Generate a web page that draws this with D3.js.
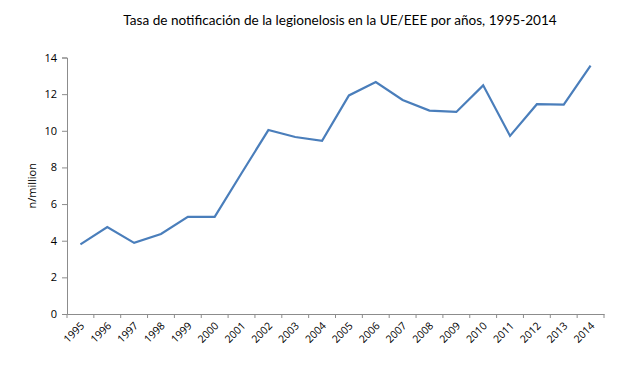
<!DOCTYPE html>
<html><head><meta charset="utf-8">
<script src="https://cdn.jsdelivr.net/npm/d3@7/dist/d3.min.js"></script>
<style>body{margin:0;background:#fff}svg{display:block}</style>
</head><body><svg id="c" width="630" height="370"></svg>
<script>
const years = ["1995","1996","1997","1998","1999","2000","2001","2002","2003","2004","2005","2006","2007","2008","2009","2010","2011","2012","2013","2014"];
const rates = [3.8,4.75,3.88,4.37,5.3,5.3,7.68,10.04,9.66,9.45,11.93,12.66,11.68,11.1,11.03,12.48,9.72,11.45,11.43,13.56];
const yTicks = [0,2,4,6,8,10,12,14];
const title = "Tasa de notificación de la legionelosis en la UE/EEE por años, 1995-2014";
const yLabel = "n/million";

const svg = d3.select("#c");
const m = {left:67, right:26, top:57.5, bottom:56};
const W = 630, H = 370;
const x = d3.scaleBand().domain(years).range([m.left, W - m.right]);
const y = d3.scaleLinear().domain([0,14]).range([H - m.bottom, m.top]);
const font = "'Open Sans', 'Liberation Sans', sans-serif";
const axisColor = "#8c8c8c";

const t = svg.append("text").attr("x", 340).attr("y", 25).attr("text-anchor","middle")
  .attr("font-family", "Lato, 'Open Sans', sans-serif").attr("font-size", 16).attr("fill","#000")
  .text(title);
const tw = t.node().getComputedTextLength();
t.attr("font-size", Math.min(17, 16 * 434 / tw));

const ya = svg.append("g").attr("transform",`translate(${m.left},0)`)
  .call(d3.axisLeft(y).tickValues(yTicks).tickSize(5).tickPadding(5).tickFormat(d3.format("d")));
ya.select(".domain").attr("stroke", axisColor);
ya.selectAll(".tick line").attr("stroke", axisColor);
ya.selectAll("text").attr("font-family", font).attr("font-size", 11).attr("fill","#000");

const xa = svg.append("g").attr("transform",`translate(0,${H - m.bottom})`)
  .call(d3.axisBottom(x).tickSize(0).tickFormat(d=>d));
xa.select(".domain").attr("stroke", axisColor);
const bounds = years.map(d => x(d)).concat([x(years[years.length-1]) + x.bandwidth()]);
xa.selectAll("line.bt").data(bounds).enter().append("line").attr("class","bt")
  .attr("x1", d=>d).attr("x2", d=>d).attr("y1",0).attr("y2",4).attr("stroke", axisColor);
xa.selectAll(".tick text").attr("font-family", font).attr("font-size", 10.5).attr("fill","#000")
  .attr("text-anchor","end").attr("x",0).attr("y",0).attr("dy","0.35em")
  .attr("transform","translate(2,10) rotate(-45)");

svg.append("text").attr("transform",`translate(36,${(y(0)+y(14))/2}) rotate(-90)`)
  .attr("text-anchor","middle").attr("font-family", font).attr("font-size", 11).attr("fill","#000").text(yLabel);

const line = d3.line().x((d,i)=>x(years[i]) + x.bandwidth()/2).y(d=>y(d));
svg.append("path").datum(rates).attr("d", line).attr("fill","none")
  .attr("stroke","#4a7ebb").attr("stroke-width",2.2).attr("stroke-linejoin","miter");
</script></body></html>
